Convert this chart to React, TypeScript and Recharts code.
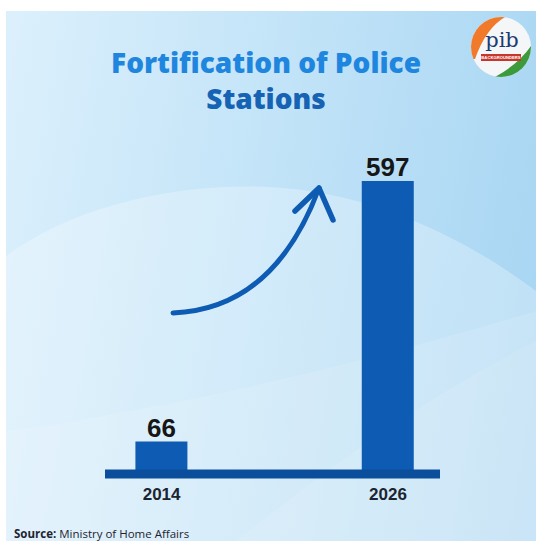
import React from 'react';
import { BarChart, Bar, XAxis, YAxis, LabelList } from 'recharts';

const years = [2014, 2026];
const stations = [66, 597];
const yearTicks = [2014, 2026];

const data = years.map((year, i) => ({ year, stations: stations[i] }));

const BAR_BLUE = '#0e5bb3';
const BAND_BLUE = '#0b4e9b';

// pib backgrounders badge, top right
const Logo = () => (
  <svg width="64" height="64" viewBox="0 0 64 64" style={{ position: 'absolute', left: 463, top: 4 }}>
    <defs>
      <clipPath id="logoClip">
        <circle cx="32" cy="32" r="30" />
      </clipPath>
    </defs>
    <circle cx="32" cy="32" r="30" fill="#f4f6f8" />
    <g clipPath="url(#logoClip)">
      <path d="M0 0 L40 0 Q18 10 6 44 L0 44 Z" fill="#f07a2a" />
      <path d="M64 28 Q50 50 22 64 L64 64 Z" fill="#3d9a3c" />
    </g>
    <text x="33" y="32" textAnchor="middle" fontFamily="DejaVu Serif" fontSize="21" fill="#1d3b73">pib</text>
    <rect x="12" y="39" width="40" height="7" fill="#c7362d" />
    <text x="32" y="44.3" textAnchor="middle" fontFamily="Liberation Sans" fontWeight="bold" fontSize="4.2" fill="#fff">BACKGROUNDERS</text>
  </svg>
);

const Waves = () => (
  <svg width="530" height="530" style={{ position: 'absolute', left: 0, top: 0 }}>
    <path d="M0 245 C80 185 220 160 330 185 C420 205 490 250 530 280 L530 530 L0 530 Z" fill="#ffffff" opacity="0.28" />
    <path d="M0 420 C150 400 330 360 530 300 L530 530 L0 530 Z" fill="#ffffff" opacity="0.12" />
    <path d="M230 530 C330 450 430 380 530 330 L530 530 Z" fill="#ffffff" opacity="0.1" />
  </svg>
);

const Arrow = () => (
  <svg width="530" height="530" style={{ position: 'absolute', left: 0, top: 0, pointerEvents: 'none' }}>
    <path d="M167 302 Q268 298 313 177" fill="none" stroke={BAR_BLUE} strokeWidth="5" strokeLinecap="round" />
    <path d="M289 200 L313 177 L327 209" fill="none" stroke={BAR_BLUE} strokeWidth="5.5" strokeLinecap="round" strokeLinejoin="round" />
  </svg>
);

export default function App() {
  return (
    <div
      style={{
        position: 'absolute',
        left: 6,
        top: 11,
        width: 530,
        height: 530,
        overflow: 'hidden',
        background: 'linear-gradient(100deg, #dcf0fc 0%, #c3e4f8 45%, #a5d4f2 100%)',
        fontFamily: '"Open Sans", sans-serif',
      }}
    >
      <Waves />
      <div
        style={{
          position: 'absolute',
          left: 0,
          top: 33,
          width: 520,
          textAlign: 'center',
          fontSize: 28,
          fontWeight: 800,
          lineHeight: '36px',
        }}
      >
        <div style={{ color: '#1f86df' }}>Fortification of Police</div>
        <div style={{ color: '#1663b4' }}>Stations</div>
      </div>
      <Logo />
      <Arrow />
      <div style={{ position: 'absolute', left: 0, top: 0 }}>
        <BarChart width={530} height={530} data={data} margin={{ top: 170, right: 96, bottom: 37, left: 99 }}>
          <YAxis hide width={0} domain={[0, 597]} />
          <Bar dataKey="stations" fill={BAR_BLUE} barSize={52} isAnimationActive={false}>
            <LabelList
              dataKey="stations"
              position="top"
              offset={5}
              style={{ fontFamily: '"Liberation Sans", Arial, sans-serif', fontSize: 26, fontWeight: 700, fill: '#161616' }}
            />
          </Bar>
          <XAxis
            dataKey="year"
            type="number"
            domain={[2011, 2028.76]}
            ticks={yearTicks}
            height={30}
            tickLine={false}
            tickMargin={8}
            axisLine={{ stroke: BAND_BLUE, strokeWidth: 9 }}
            tick={{ fontFamily: '"Liberation Sans", Arial, sans-serif', fontSize: 17, fontWeight: 700, fill: '#1c2430' }}
            allowDataOverflow
          />
        </BarChart>
      </div>
      <div
        style={{
          position: 'absolute',
          left: 8,
          top: 515,
          fontSize: 11.5,
          color: '#1e2430',
          whiteSpace: 'nowrap',
        }}
      >
        <b>Source:</b> Ministry of Home Affairs
      </div>
    </div>
  );
}
